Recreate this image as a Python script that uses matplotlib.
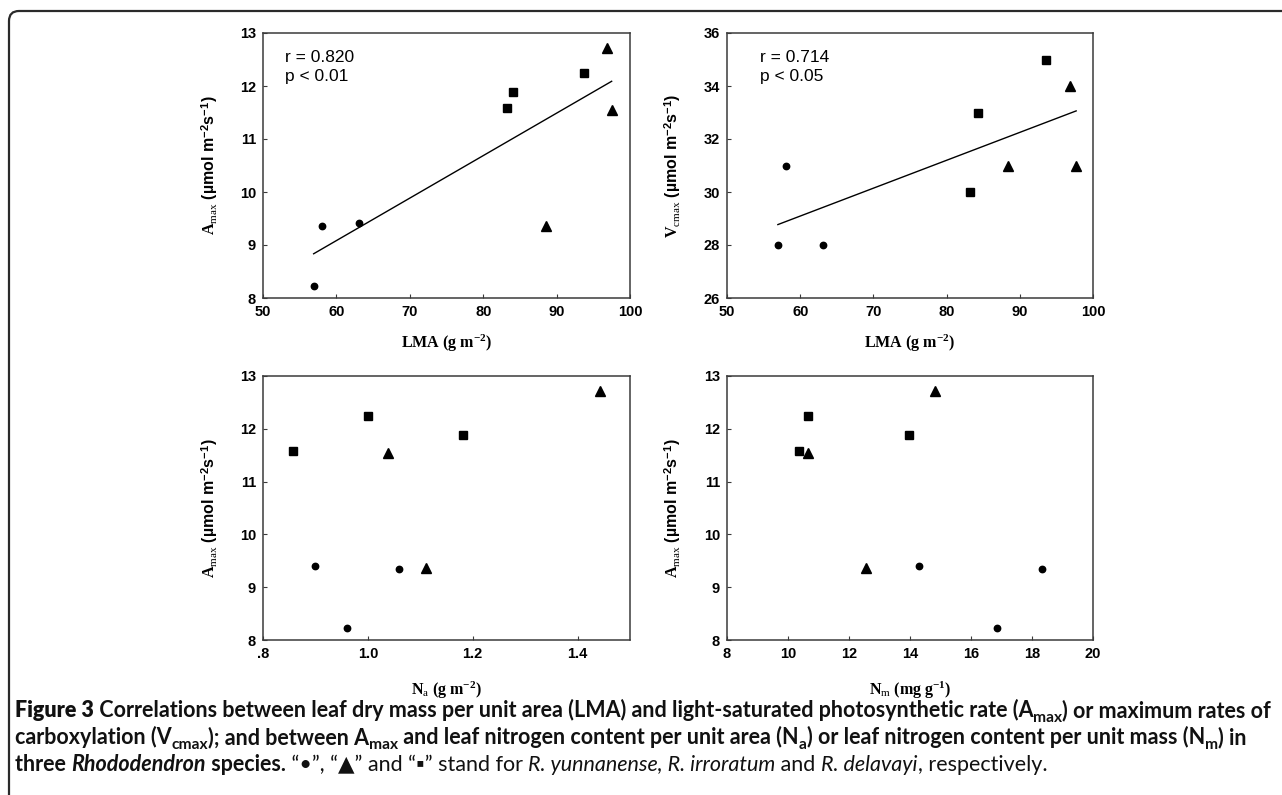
import numpy as np
import matplotlib
matplotlib.use("Agg")
import matplotlib.pyplot as plt
from matplotlib.patches import FancyBboxPatch

plt.rcParams['mathtext.fontset'] = 'custom'
plt.rcParams['mathtext.rm'] = 'Liberation Serif'
plt.rcParams['mathtext.bf'] = 'Liberation Serif:bold'
plt.rcParams['mathtext.it'] = 'Liberation Serif:italic'
plt.rcParams['mathtext.sf'] = 'Liberation Sans:bold'

# ---------------- data ----------------
# species: R. yunnanense (circle), R. irroratum (triangle), R. delavayi (square)
lma_circle = [56.9, 58.0, 63.1]
lma_triangle = [96.8, 97.5, 88.5]
lma_square = [83.2, 84.1, 93.7]

amax_circle = [8.23, 9.35, 9.41]
amax_triangle = [12.71, 11.55, 9.36]
amax_square = [11.58, 11.89, 12.24]

vcmax_lma_circle = [56.95, 58.0, 63.1]
vcmax_lma_triangle = [96.9, 88.4, 97.7]
vcmax_lma_square = [83.2, 84.3, 93.6]
vcmax_circle = [28.0, 31.0, 28.0]
vcmax_triangle = [34.0, 31.0, 31.0]
vcmax_square = [30.0, 33.0, 35.0]

na_circle = [0.96, 1.06, 0.90]
na_triangle = [1.443, 1.038, 1.11]
na_square = [0.858, 1.181, 1.00]

nm_circle = [16.85, 18.33, 14.31]
nm_triangle = [14.81, 10.65, 12.57]
nm_square = [10.35, 13.96, 10.65]

stats_lma_amax = ["r = 0.820", "p < 0.01"]
stats_lma_vcmax = ["r = 0.714", "p < 0.05"]

xticks_lma = [50, 60, 70, 80, 90, 100]
xticks_na = [0.8, 1.0, 1.2, 1.4]
xticklabels_na = [".8", "1.0", "1.2", "1.4"]
xticks_nm = [8, 10, 12, 14, 16, 18, 20]
yticks_amax = [8, 9, 10, 11, 12, 13]
yticks_vcmax = [26, 28, 30, 32, 34, 36]

# ---------------- figure ----------------
W, H = 1282, 795
fig = plt.figure(figsize=(W / 100, H / 100), dpi=100)

# border (top + left visible, rounded corner)
border = FancyBboxPatch((9, -60), W + 100, H - 11 + 60,
                        boxstyle="round,pad=0,rounding_size=10",
                        transform=None, fill=False, edgecolor='#2a2a2a',
                        linewidth=1.6, clip_on=False)
fig.patches.append(border)


def axes_px(left, top, right, bottom):
    return fig.add_axes([left / W, (H - bottom) / H, (right - left) / W, (bottom - top) / H])


spine_col = '#3a3a3a'
tick_font = dict(family='Liberation Sans', weight='bold', size=10.5)
label_font = dict(family='Liberation Serif', weight='bold', size=11.5)
ylab_font = dict(family='Liberation Sans', weight='bold', size=11.5)


def style(ax, xlim, ylim, xticks, yticks, xticklabels=None):
    ax.set_xlim(*xlim)
    ax.set_ylim(*ylim)
    ax.set_xticks(xticks)
    ax.set_yticks(yticks)
    if xticklabels is not None:
        ax.set_xticklabels(xticklabels)
    else:
        ax.set_xticklabels([str(t) for t in xticks])
    ax.set_yticklabels([str(t) for t in yticks])
    for lab in ax.get_xticklabels() + ax.get_yticklabels():
        lab.set_fontfamily(tick_font['family'])
        lab.set_fontweight(tick_font['weight'])
        lab.set_fontsize(tick_font['size'])
    ax.tick_params(direction='in', length=3, width=0.8, color=spine_col)
    ax.tick_params(axis='x', pad=5)
    ax.tick_params(axis='y', pad=5)
    for s in ax.spines.values():
        s.set_color(spine_col)
        s.set_linewidth(1.1)


def scatter3(ax, xc, yc, xt, yt, xs, ys):
    ax.plot(xc, yc, 'o', color='black', markersize=4.6, linestyle='none')
    ax.plot(xt, yt, '^', color='black', markersize=6.8, linestyle='none')
    ax.plot(xs, ys, 's', color='black', markersize=5.6, linestyle='none')


def fitline(ax, x, y):
    x = np.asarray(x)
    y = np.asarray(y)
    k, b = np.polyfit(x, y, 1)
    xx = np.array([x.min(), x.max()])
    ax.plot(xx, k * xx + b, color='black', linewidth=1.0)


ylabel_amax = r"$\mathbf{A}_{\mathrm{max}}$ (µmol m$^{\mathsf{-2}}$s$^{\mathsf{-1}}$)"
ylabel_vcmax = r"$\mathbf{V}_{\mathrm{cmax}}$ (µmol m$^{\mathsf{-2}}$s$^{\mathsf{-1}}$)"

# top-left
ax1 = axes_px(263, 33, 630, 298)
scatter3(ax1, lma_circle, amax_circle, lma_triangle, amax_triangle, lma_square, amax_square)
fitline(ax1, lma_circle + lma_triangle + lma_square, amax_circle + amax_triangle + amax_square)
style(ax1, (50, 100), (8, 13), xticks_lma, yticks_amax)
ax1.set_xlabel(r"LMA (g m$^{\mathbf{-2}}$)", **label_font, va='center')
ax1.xaxis.set_label_coords(0.5, -0.17)
ax1.set_ylabel(ylabel_amax, **ylab_font, va='center')
ax1.yaxis.set_label_coords(-0.145, 0.5)
ax1.text(0.06, 0.909, stats_lma_amax[0], transform=ax1.transAxes, family='Liberation Sans', size=12.5, va='center')
ax1.text(0.06, 0.834, stats_lma_amax[1], transform=ax1.transAxes, family='Liberation Sans', size=12.5, va='center')

# top-right
ax2 = axes_px(727, 33, 1093, 298)
scatter3(ax2, vcmax_lma_circle, vcmax_circle, vcmax_lma_triangle, vcmax_triangle, vcmax_lma_square, vcmax_square)
fitline(ax2, vcmax_lma_circle + vcmax_lma_triangle + vcmax_lma_square, vcmax_circle + vcmax_triangle + vcmax_square)
style(ax2, (50, 100), (26, 36), xticks_lma, yticks_vcmax)
ax2.set_xlabel(r"LMA (g m$^{\mathbf{-2}}$)", **label_font, va='center')
ax2.xaxis.set_label_coords(0.5, -0.17)
ax2.set_ylabel(ylabel_vcmax, **ylab_font, va='center')
ax2.yaxis.set_label_coords(-0.15, 0.5)
ax2.text(0.09, 0.909, stats_lma_vcmax[0], transform=ax2.transAxes, family='Liberation Sans', size=12.5, va='center')
ax2.text(0.09, 0.834, stats_lma_vcmax[1], transform=ax2.transAxes, family='Liberation Sans', size=12.5, va='center')

# bottom-left
ax3 = axes_px(263, 376, 630, 640)
scatter3(ax3, na_circle, amax_circle, na_triangle, amax_triangle, na_square, amax_square)
style(ax3, (0.8, 1.5), (8, 13), xticks_na, yticks_amax, xticklabels_na)
ax3.set_xlabel(r"$\mathbf{N}_{\mathrm{a}}$ (g m$^{\mathbf{-2}}$)", **label_font, va='center')
ax3.xaxis.set_label_coords(0.5, -0.19)
ax3.set_ylabel(ylabel_amax, **ylab_font, va='center')
ax3.yaxis.set_label_coords(-0.145, 0.5)

# bottom-right
ax4 = axes_px(727, 376, 1093, 640)
scatter3(ax4, nm_circle, amax_circle, nm_triangle, amax_triangle, nm_square, amax_square)
style(ax4, (8, 20), (8, 13), xticks_nm, yticks_amax)
ax4.set_xlabel(r"$\mathbf{N}_{\mathrm{m}}$ (mg g$^{\mathbf{-1}}$)", **label_font, va='center')
ax4.xaxis.set_label_coords(0.5, -0.19)
ax4.set_ylabel(ylabel_amax, **ylab_font, va='center')
ax4.yaxis.set_label_coords(-0.15, 0.5)

# ---------------- caption ----------------
renderer = fig.canvas.get_renderer()
cap_family = ['Lato', 'DejaVu Sans']

B, R, I = ('bold', 'normal'), ('normal', 'normal'), ('normal', 'italic')
line1 = [("Figure 3", ('heavy', 'normal'), False),
         (" Correlations between leaf dry mass per unit area (LMA) and light-saturated photosynthetic rate (A", B, False),
         ("max", B, True), (") or maximum rates of", B, False)]
line2 = [("carboxylation (V", B, False), ("cmax", B, True), ("); and between A", B, False), ("max", B, True),
         (" and leaf nitrogen content per unit area (N", B, False), ("a", B, True),
         (") or leaf nitrogen content per unit mass (N", B, False), ("m", B, True), (") in", B, False)]
line3 = [("three ", B, False), ("Rhododendron", ('bold', 'italic'), False), (" species.", B, False),
         (" \u201c\u2022\u201d, \u201c\u25b2\u201d and \u201c\u25aa\u201d stand for ", R, False),
         ("R. yunnanense, R. irroratum", I, False), (" and ", R, False), ("R. delavayi", I, False),
         (", respectively.", R, False)]


def piece_width(s, wt, st, size):
    kw = dict(family=cap_family, weight=wt, style=st, size=size)
    t = fig.text(0, 0, "|" + s + "|", **kw)
    w1 = t.get_window_extent(renderer).width
    t.remove()
    t = fig.text(0, 0, "||", **kw)
    w0 = t.get_window_extent(renderer).width
    t.remove()
    return w1 - w0


def line_width(pieces, size):
    return sum(piece_width(s, ws[0], ws[1], size * (0.72 if sub else 1.0)) for s, ws, sub in pieces)


def draw_line(pieces, x_px, y_px, size):
    x = x_px
    for s, ws, sub in pieces:
        sz = size * (0.72 if sub else 1.0)
        dy = -0.22 * size * 100 / 72 if sub else 0
        fig.text(x / W, (H - y_px + dy) / H, s, family=cap_family, weight=ws[0], style=ws[1],
                 size=sz, ha='left', va='baseline', color='#111111')
        x += piece_width(s, ws[0], ws[1], sz)


base = 12.0
target = 1268 - 15
size = base * target / line_width(line1, base)
draw_line(line1, 15, 717, size)
draw_line(line2, 15, 744, size)
draw_line(line3, 15, 771, size)

fig.savefig("out.png", dpi=100)
